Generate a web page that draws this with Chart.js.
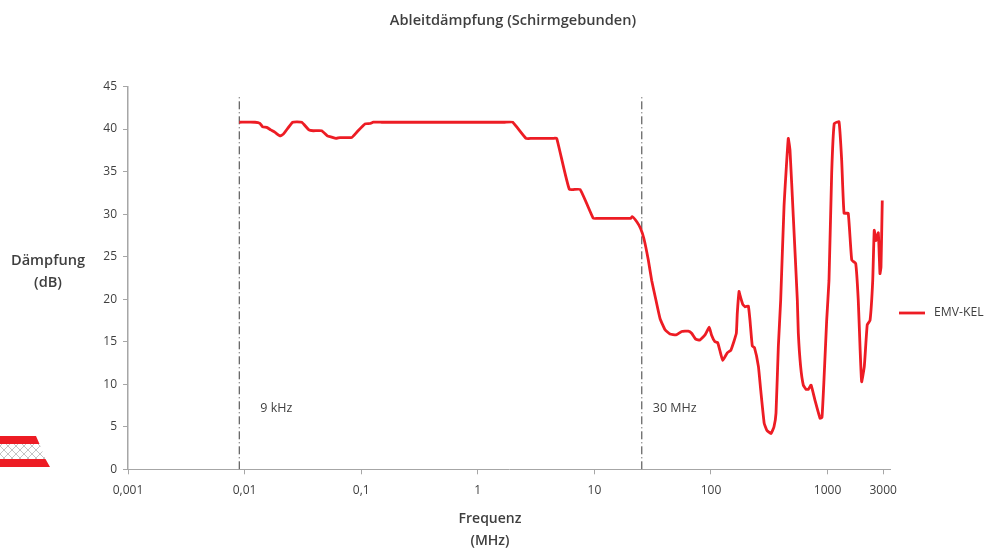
<!DOCTYPE html>
<html>
<head>
<meta charset="utf-8">
<script src="https://cdn.jsdelivr.net/npm/chart.js@4.4.1/dist/chart.umd.min.js"></script>
<style>
  html, body { margin: 0; padding: 0; background: #fff; }
  #wrap { position: relative; width: 996px; height: 552px; overflow: hidden; }
  #chart { position: absolute; left: 0; top: 0; }
  #logo { position: absolute; left: 0; top: 430px; }
</style>
</head>
<body>
<div id="wrap">
  <canvas id="chart" width="996" height="552"></canvas>
  <svg id="logo" width="60" height="45">
    <defs>
      <pattern id="mesh" width="8" height="8" patternUnits="userSpaceOnUse">
        <path d="M0 0L8 8M8 0L0 8" stroke="#b5b5b5" stroke-width="0.8"/>
      </pattern>
    </defs>
    <polygon points="0,14 39.5,14 45.5,29 0,29" fill="url(#mesh)"/>
    <polygon points="0,6 36,6 39.5,14 0,14" fill="#ed1c24"/>
    <polygon points="0,29 45.5,29 50,37 0,37" fill="#ed1c24"/>
  </svg>
</div>
<script>
// Ableitdaempfung chart
const chartTitle = 'Ableitdämpfung (Schirmgebunden)';
const yTitle = ['Dämpfung', '(dB)'];
const xTitle = ['Frequenz', '(MHz)'];
const seriesName = 'EMV-KEL';

const xTicks = [0.001, 0.01, 0.1, 1, 10, 100, 1000, 3000];
const markerFreqs = [0.009, 25.5];
const markerLabels = ['9 kHz', '30 MHz'];
const markerTop = 43.8;

const freqs = [
  0.009, 0.0123, 0.01355, 0.0143, 0.01547, 0.01675, 0.01825, 0.0201, 0.0215, 0.02585,
  0.0309, 0.0356, 0.0388, 0.0458, 0.0512, 0.0558, 0.0608, 0.0658, 0.083, 0.0927,
  0.108, 0.119, 0.127, 0.15, 1.7, 1.99, 2.59, 2.9, 4.4, 4.75, 6.10, 7.53, 9.78, 10.6, 19, 20.5,
  21.1, 23.1, 24.9, 26.6, 29.0, 31.0, 33.7, 36.6, 40.4, 44.5,
  50.1, 56.1, 63.8, 68.2, 74.0, 80.5, 88.9, 96.6, 101, 108,
  114, 119, 126, 138, 148, 157, 165, 168, 174, 177,
  187, 196, 209, 216, 226, 236, 255, 267, 286, 301,
  327, 347, 361, 378, 396, 423, 460, 476, 508, 550,
  561, 587, 619, 653, 684, 721, 780, 861, 895, 931,
  982, 1028, 1084, 1140, 1253, 1321, 1384, 1503, 1611, 1742,
  1832, 1897, 1959, 2065, 2188, 2312, 2438, 2512, 2600, 2723,
  2812, 2871, 2944
];
const damping = [
  40.8, 40.8, 40.66, 40.25, 40.2, 39.9, 39.6, 39.2, 39.4, 40.8,
  40.8, 39.9, 39.8, 39.8, 39.2, 39.05, 38.9, 39, 39, 39.7,
  40.6, 40.65, 40.8, 40.8, 40.8, 40.8, 38.9, 38.9, 38.9, 38.9, 32.9, 32.9, 29.5, 29.5, 29.5, 29.5,
  29.7, 29.1, 28.3, 27.1, 24.6, 22.2, 19.9, 17.7, 16.4, 15.9,
  15.8, 16.2, 16.25, 16, 15.3, 15.2, 15.8, 16.7, 15.8, 15,
  14.9, 14, 12.8, 13.7, 14, 15, 16, 18.3, 20.9, 20.5,
  19.4, 19.1, 19.2, 17.5, 14.5, 14.3, 12.1, 9.3, 5.4, 4.6,
  4.2, 5, 6.6, 14.4, 19.9, 30.9, 38.9, 37.5, 29.7, 19.9,
  16, 12.1, 9.9, 9.4, 9.4, 9.9, 8.1, 6, 6.1, 10.5,
  17.5, 22.2, 34.8, 40.65, 40.85, 36.3, 30.1, 30.1, 24.6, 24.2,
  19.9, 14.4, 10.3, 12.1, 17, 17.5, 22.2, 28.1, 26.9, 27.8,
  23, 23.8, 31.6
];

const RED = '#ed1c24';
const AXIS = '#a6a6a6';
const TEXT = '#3f3f3f';
const FONT = '"Open Sans", sans-serif';

// titles, marker labels and the legend sit at fixed spots, not where Chart.js puts them
const labelsPlugin = {
  id: 'labels',
  afterDraw(chart) {
    const ctx = chart.ctx;
    ctx.save();
    ctx.fillStyle = TEXT;
    ctx.textBaseline = 'middle';

    ctx.textAlign = 'center';
    ctx.font = '600 14.6px ' + FONT;
    ctx.fillText(chartTitle, 513, 21);
    ctx.fillText(yTitle[0], 48, 261);
    ctx.fillText(yTitle[1], 48, 283);
    ctx.font = '600 14px ' + FONT;
    ctx.fillText(xTitle[0], 490, 519);
    ctx.fillText(xTitle[1], 490, 541);

    ctx.textAlign = 'left';
    ctx.font = '12.5px ' + FONT;
    markerLabels.forEach((text, i) => {
      ctx.fillText(text, chart.scales.x.getPixelForValue(markerFreqs[i]) + (i === 0 ? 21 : 11), 408);
    });
    ctx.font = '12.2px ' + FONT;
    ctx.fillText(seriesName, 934, 313);

    ctx.strokeStyle = RED;
    ctx.lineWidth = 2.8;
    ctx.beginPath();
    ctx.moveTo(899, 313);
    ctx.lineTo(925, 313);
    ctx.stroke();
    ctx.restore();
  }
};

const markerSets = markerFreqs.map(f => ({
  data: [{ x: f, y: 0 }, { x: f, y: markerTop }],
  borderColor: '#3a3a3a',
  borderWidth: 1,
  borderDash: [8, 3, 1, 3],
  pointRadius: 0,
  order: 2
}));

new Chart(document.getElementById('chart'), {
  type: 'line',
  data: {
    datasets: [{
      label: seriesName,
      data: freqs.map((f, i) => ({ x: f, y: damping[i] })),
      borderColor: RED,
      borderWidth: 2.8,
      borderJoinStyle: 'round',
      pointRadius: 0,
      tension: 0.12,
      order: 1
    }, ...markerSets]
  },
  options: {
    responsive: false,
    animation: false,
    layout: { padding: { left: 0, top: 86.5, right: 105.3, bottom: 0 } },
    plugins: { legend: { display: false }, title: { display: false }, tooltip: { enabled: false } },
    scales: {
      x: {
        type: 'logarithmic',
        min: 0.001,
        max: 3477,
        afterBuildTicks(scale) { scale.ticks = xTicks.map(v => ({ value: v })); },
        afterFit(scale) { scale.height = 82.7; },
        grid: { drawOnChartArea: false, color: AXIS, tickLength: 5 },
        border: { color: AXIS, width: 1 },
        ticks: {
          autoSkip: false,
          maxRotation: 0,
          padding: 9,
          color: TEXT,
          font: { family: FONT, size: 12 },
          callback: v => String(v).replace('.', ',')
        }
      },
      y: {
        min: 0,
        max: 45,
        afterFit(scale) { scale.width = 128; },
        grid: { drawOnChartArea: false, color: AXIS, tickLength: 5 },
        border: { color: AXIS, width: 1.5 },
        ticks: {
          stepSize: 5,
          padding: 6,
          color: TEXT,
          font: { family: FONT, size: 12 }
        }
      }
    }
  },
  plugins: [labelsPlugin]
});
</script>
</body>
</html>
